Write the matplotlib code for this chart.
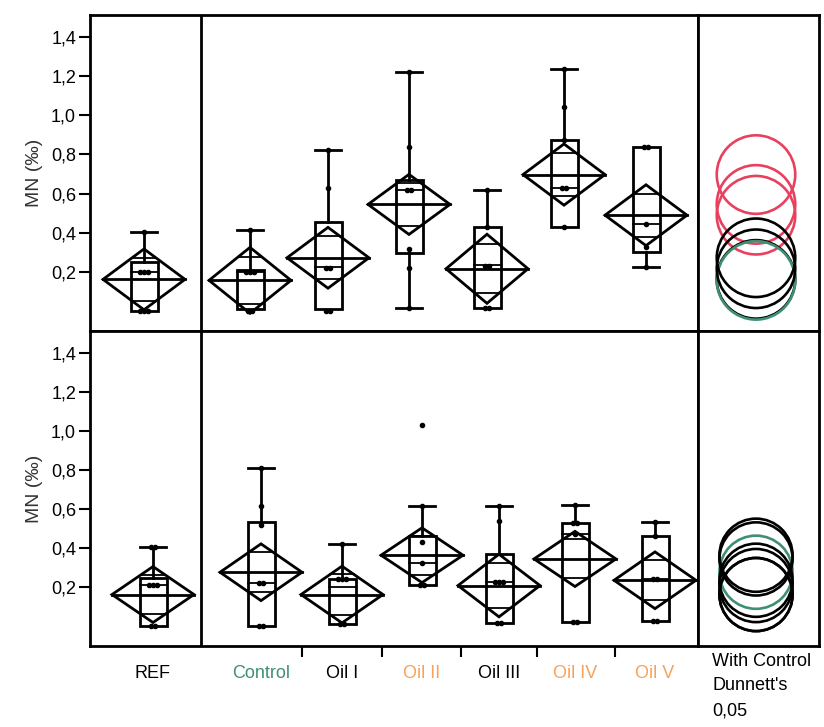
import matplotlib
matplotlib.use("Agg")
import matplotlib.pyplot as plt
from matplotlib.patches import Polygon, Rectangle, Ellipse

plt.rcParams["font.family"] = ["Liberation Sans", "DejaVu Sans"]

# groups and label colours
groups = ["REF", "Control", "Oil I", "Oil II", "Oil III", "Oil IV", "Oil V"]
label_colors = ["black", "#3f9070", "black", "#f6a25a", "black", "#f6a25a", "#f6a25a"]

# top panel: means diamonds, quantiles and raw points (MN, permille)
top_mean = [0.163, 0.158, 0.273, 0.545, 0.217, 0.697, 0.490]
top_ci = [0.155, 0.168, 0.155, 0.153, 0.176, 0.156, 0.155]
top_q1 = [0.0, 0.01, 0.01, 0.297, 0.018, 0.43, 0.305]
top_med = [0.2, 0.2, 0.225, 0.617, 0.234, 0.63, 0.443]
top_q3 = [0.25, 0.21, 0.455, 0.67, 0.43, 0.875, 0.835]
top_lo = [0.0, 0.0, 0.0, 0.018, 0.018, 0.43, 0.225]
top_hi = [0.405, 0.413, 0.82, 1.22, 0.62, 1.233, 0.835]
top_points = [
    [0.0, 0.0, 0.0, 0.2, 0.2, 0.2, 0.405],
    [0.0, 0.0, 0.2, 0.2, 0.2, 0.413],
    [0.0, 0.0, 0.22, 0.22, 0.627, 0.82],
    [0.018, 0.22, 0.32, 0.62, 0.62, 0.84, 1.22],
    [0.018, 0.018, 0.23, 0.23, 0.43, 0.62],
    [0.43, 0.63, 0.63, 0.875, 1.04, 1.233],
    [0.225, 0.33, 0.443, 0.835, 0.835],
]
top_sig = [False, False, False, True, False, True, True]

# bottom panel
bot_mean = [0.163, 0.277, 0.163, 0.364, 0.209, 0.345, 0.236]
bot_ci = [0.143, 0.145, 0.145, 0.140, 0.160, 0.141, 0.145]
bot_q1 = [0.0, 0.004, 0.01, 0.214, 0.018, 0.021, 0.026]
bot_med = [0.21, 0.223, 0.2, 0.325, 0.226, 0.475, 0.243]
bot_q3 = [0.248, 0.533, 0.24, 0.46, 0.372, 0.53, 0.461]
bot_lo = [0.0, 0.0, 0.01, 0.214, 0.018, 0.021, 0.026]
bot_hi = [0.405, 0.81, 0.419, 0.615, 0.618, 0.623, 0.533]
bot_points = [
    [0.0, 0.0, 0.21, 0.21, 0.21, 0.405, 0.405],
    [0.0, 0.0, 0.22, 0.22, 0.52, 0.615, 0.81],
    [0.01, 0.01, 0.24, 0.24, 0.24, 0.419],
    [0.214, 0.214, 0.325, 0.43, 0.615, 1.028],
    [0.018, 0.018, 0.226, 0.226, 0.226, 0.538, 0.618],
    [0.021, 0.021, 0.475, 0.53, 0.53, 0.623],
    [0.026, 0.026, 0.243, 0.243, 0.461, 0.533],
]
bot_sig = [False] * 7

# comparison circle radius (Dunnett's, alpha 0.05)
top_radius = 0.2
bot_radius = 0.187

y_ticks = [0.2, 0.4, 0.6, 0.8, 1.0, 1.2, 1.4]

# layout (pixel units of the 824x727 canvas)
W, H = 824, 727
top_pos = [144, 250, 328, 409, 487, 564, 646]
bot_pos = [153, 261, 342, 422, 499, 575, 655]
x_left, x_div, x_circ, x_right = 90, 201, 698, 819
y_lim = (-0.1, 1.51)
diamond_hw = 41
box_hw = 13.5
cap_hw = 13
circle_x = 756
lw = 2.0


def draw_panel(ax, pos, mean, ci, q1, med, q3, lo, hi, pts):
    for i, x in enumerate(pos):
        m, h = mean[i], ci[i]
        # means diamond
        ax.add_patch(Polygon([(x - diamond_hw, m), (x, m + h), (x + diamond_hw, m), (x, m - h)],
                             closed=True, fill=False, lw=lw, ec="black", zorder=3))
        ax.plot([x - diamond_hw, x + diamond_hw], [m, m], color="black", lw=lw, zorder=3)
        # overlap marks
        ow = diamond_hw * (1 - 0.7071)
        for s in (1, -1):
            yy = m + s * 0.7071 * h
            ax.plot([x - ow, x + ow], [yy, yy], color="black", lw=1.3, zorder=3)
        # box plot
        ax.add_patch(Rectangle((x - box_hw, q1[i]), 2 * box_hw, q3[i] - q1[i],
                               fill=False, lw=lw, ec="black", zorder=3))
        ax.plot([x - box_hw, x + box_hw], [med[i], med[i]], color="black", lw=1.3, zorder=3)
        if hi[i] - q3[i] > 0.02:
            ax.plot([x, x], [q3[i], hi[i]], color="black", lw=lw, zorder=3)
            ax.plot([x - cap_hw, x + cap_hw], [hi[i], hi[i]], color="black", lw=lw, zorder=3)
        if q1[i] - lo[i] > 0.02:
            ax.plot([x, x], [q1[i], lo[i]], color="black", lw=lw, zorder=3)
            ax.plot([x - cap_hw, x + cap_hw], [lo[i], lo[i]], color="black", lw=lw, zorder=3)
        # raw points, duplicates spread sideways
        seen = {}
        for v in pts[i]:
            k = seen.get(v, 0)
            seen[v] = k + 1
            n = pts[i].count(v)
            ax.plot(x + (k - (n - 1) / 2) * 4, v, "o", ms=3, color="black", zorder=4)
    ax.axvline(x_div, color="black", lw=lw)
    ax.set_xlim(x_left, x_circ)
    ax.set_ylim(*y_lim)
    ax.set_yticks(y_ticks)
    ax.set_yticklabels([f"{t:.1f}".replace(".", ",") for t in y_ticks])
    ax.tick_params(axis="y", direction="out", length=8, width=1.5, labelsize=13, pad=2)
    ax.set_ylabel("MN (‰)", fontsize=14, color="#333333", labelpad=6)
    for sp in ax.spines.values():
        sp.set_linewidth(lw)


def draw_circles(ax, mean, sig, radius, height_px):
    ppu = height_px / (y_lim[1] - y_lim[0])
    for i, m in enumerate(mean):
        if groups[i] == "Control":
            col = "#3f9070"
        elif sig[i]:
            col = "#e8405e"
        else:
            col = "black"
        ax.add_patch(Ellipse((circle_x, m), 2 * radius * ppu, 2 * radius,
                             fill=False, ec=col, lw=1.9, zorder=3 if sig[i] else 4))
    ax.set_xlim(x_circ, x_right)
    ax.set_ylim(*y_lim)
    ax.set_xticks([])
    ax.set_yticks([])
    for sp in ax.spines.values():
        sp.set_linewidth(lw)


fig = plt.figure(figsize=(W / 100, H / 100), dpi=100)

panels = [
    (15, 331, top_pos, top_mean, top_ci, top_q1, top_med, top_q3, top_lo, top_hi, top_points, top_sig, top_radius),
    (331, 646, bot_pos, bot_mean, bot_ci, bot_q1, bot_med, bot_q3, bot_lo, bot_hi, bot_points, bot_sig, bot_radius),
]
for k, (y0, y1, pos, mean, ci, q1, med, q3, lo, hi, pts, sig, rad) in enumerate(panels):
    rect = [x_left / W, 1 - y1 / H, (x_circ - x_left) / W, (y1 - y0) / H]
    ax = fig.add_axes(rect)
    draw_panel(ax, pos, mean, ci, q1, med, q3, lo, hi, pts)
    if k == 0:
        ax.set_xticks([])
    else:
        bounds = [(pos[j] + pos[j + 1]) / 2 for j in range(1, len(pos) - 1)]
        ax.set_xticks(bounds)
        ax.set_xticklabels([])
        ax.tick_params(axis="x", direction="out", length=8, width=1.5)
        for j, g in enumerate(groups):
            ax.text(pos[j], -0.06, g, transform=ax.get_xaxis_transform(), ha="center", va="top",
                    fontsize=13, color=label_colors[j])
    cax = fig.add_axes([x_circ / W, 1 - y1 / H, (x_right - x_circ) / W, (y1 - y0) / H])
    draw_circles(cax, mean, sig, rad, y1 - y0)

for j, line in enumerate(["With Control", "Dunnett's", "0,05"]):
    fig.text(712 / W, 1 - (661 + j * 25) / H, line, ha="left", va="center", fontsize=13)

fig.savefig("out.png", dpi=100)
